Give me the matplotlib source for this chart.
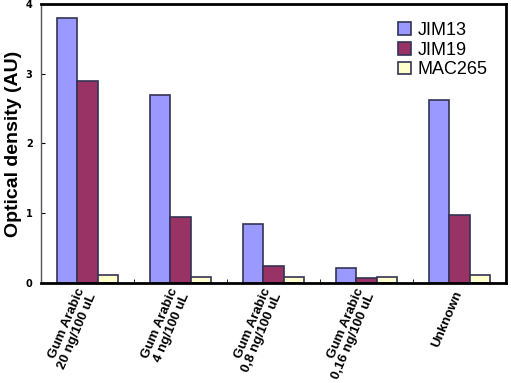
import matplotlib.pyplot as plt
import numpy as np

categories = ["Gum Arabic\n20 ng/100 uL", "Gum Arabic\n4 ng/100 uL",
              "Gum Arabic\n0,8 ng/100 uL", "Gum Arabic\n0,16 ng/100 uL", "Unknown"]
jim13 = [3.79, 2.70, 0.84, 0.22, 2.62]
jim19 = [2.90, 0.94, 0.24, 0.07, 0.97]
mac265 = [0.11, 0.08, 0.08, 0.09, 0.12]

fig = plt.figure(figsize=(5.11, 3.83), dpi=100)
ax = fig.add_axes([0.080, 0.261, 0.910, 0.729])

x = np.arange(len(categories))
w = 0.22
kw = dict(edgecolor="#333355", linewidth=1.2)
ax.bar(x - w, jim13, w, color="#9999ff", label="JIM13", **kw)
ax.bar(x, jim19, w, color="#993366", label="JIM19", **kw)
ax.bar(x + w, mac265, w, color="#ffffcc", label="MAC265", **kw)

ax.set_xlim(-0.5, len(categories) - 0.5)
ax.set_ylim(0, 4)
ax.set_yticks([0, 1, 2, 3, 4])
ax.set_yticklabels(["0", "1", "2", "3", "4"], fontsize=7, fontweight="bold")
ax.set_xticks(x)
ax.set_xticklabels(categories, rotation=67, ha="right", va="center",
                   rotation_mode="anchor", linespacing=1.0,
                   fontsize=9.6, fontweight="bold", family="Liberation Sans")
ax.tick_params(axis="x", length=0, pad=6)
ax.set_xticks(np.arange(len(categories) + 1) - 0.5, minor=True)
ax.tick_params(axis="x", which="minor", length=3, direction="in")
ax.tick_params(axis="y", length=3, direction="in", pad=6)
ax.set_ylabel("Optical density (AU)", fontsize=14, fontweight="bold",
              family="Liberation Sans", labelpad=3)

for s in ["top", "right", "bottom"]:
    ax.spines[s].set_linewidth(2)
ax.spines["left"].set_linewidth(1)
ax.spines["left"].set_color("#555555")

leg = ax.legend(loc="upper right", frameon=False,
                handlelength=0.7, handleheight=0.7, handletextpad=0.4,
                labelspacing=0.15, borderaxespad=0.6,
                prop={"family": "Liberation Sans", "size": 13})

fig.savefig("out.png", dpi=100)
